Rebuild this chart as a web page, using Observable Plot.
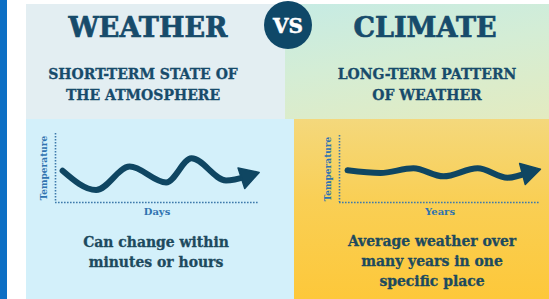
<!DOCTYPE html>
<html><head><meta charset="utf-8">
<script src="https://cdn.jsdelivr.net/npm/d3@7"></script>
<script src="https://cdn.jsdelivr.net/npm/@observablehq/plot@0.6"></script>
<style>
html,body{margin:0;padding:0;background:#fff;}
#root{position:relative;width:549px;height:299px;overflow:hidden;font-family:"DejaVu Serif",serif;font-weight:bold;}
.panel{position:absolute;}
.t{position:absolute;text-align:center;white-space:nowrap;line-height:1;width:400px;}
.chart{position:absolute;}
.chart svg{overflow:visible;background:transparent;}
</style></head><body>
<div id="root">
  <div class="panel" style="left:0;top:0;width:7px;height:299px;background:#0d6fc4"></div>
  <div class="panel" style="left:26px;top:4px;width:259px;height:115px;background:#e3eef2"></div>
  <div class="panel" style="left:285px;top:4px;width:264px;height:115px;background:linear-gradient(170deg,#c6ebe4 0%,#d4edd5 45%,#e3ebc0 100%)"></div>
  <div class="panel" style="left:26px;top:119px;width:268px;height:180px;background:#d3f0fa"></div>
  <div class="panel" style="left:294px;top:119px;width:255px;height:180px;background:linear-gradient(180deg,#f4d87c 0%,#f9cf55 45%,#fdc83a 100%)"></div>
  <div class="panel" style="left:264px;top:1px;width:48px;height:48px;border-radius:50%;background:#0f4868"></div>
  <div id="chart1" class="chart" style="left:36px;top:128px"></div>
  <div id="chart2" class="chart" style="left:316px;top:128px"></div>
</div>
<script>
// ---- data ----
const days = [0.7, 4.0, 7.3, 10.9, 13.4, 16.8, 18.9];
const weatherTemp = [4.6, 1.8, 5.2, 2.9, 6.4, 3.2, 3.8];
const years = [4.0, 20.4, 36.8, 51.7, 68.7, 83.6, 94.0];
const climateTemp = [4.8, 4.4, 5.1, 3.9, 5.1, 3.7, 4.5];

const titles = ["WEATHER", "VS", "CLIMATE"];
const subtitles = [["SHORT-TERM STATE OF", "THE ATMOSPHERE"], ["LONG-TERM PATTERN", "OF WEATHER"]];
const captions = [["Can change within", "minutes or hours"], ["Average weather over", "many years in one", "specific place"]];
const xLabels = ["Days", "Years"];
const yLabel = "Temperature";

// ---- text ----
const root = document.getElementById("root");
function addText(str, cx, baseline, size, color, extra) {
  const d = document.createElement("div");
  d.className = "t";
  d.textContent = str;
  d.style.fontSize = size + "px";
  d.style.left = (cx - 200) + "px";
  d.style.top = (baseline - 0.846 * size) + "px";
  d.style.color = color;
  if (extra) Object.assign(d.style, extra);
  root.appendChild(d);
}
const navy = "#174b6b";
const heavy = {webkitTextStroke: "0.7px " + navy};
addText(titles[0], 148, 37, 27, navy, heavy);
addText(titles[1], 288, 33, 20, "#ffffff", {webkitTextStroke: "0.5px #ffffff"});
addText(titles[2], 425, 37, 27, navy, heavy);
const sub = {webkitTextStroke: "0.3px " + navy};
addText(subtitles[0][0], 143, 79, 14, navy, sub);
addText(subtitles[0][1], 143, 100, 14, navy, sub);
addText(subtitles[1][0], 427, 79, 14, navy, sub);
addText(subtitles[1][1], 427, 100, 14, navy, sub);
const capColor = "#1d4a5e";
const cap = {fontFamily: '"DejaVu Serif Condensed","DejaVu Serif",serif', fontStretch: "condensed", webkitTextStroke: "0.3px " + capColor};
addText(captions[0][0], 156, 247, 15.5, capColor, cap);
addText(captions[0][1], 156, 267, 15.5, capColor, cap);
addText(captions[1][0], 432, 246, 15.5, capColor, cap);
addText(captions[1][1], 432, 266, 15.5, capColor, cap);
addText(captions[1][2], 432, 286, 15.5, capColor, cap);

// ---- charts ----
const lineColor = "#0f4662";
const axisColor = "#3d7aab";
const labelColor = "#2f73b0";
function miniChart(xs, ys, xDomain, xLabel, opts) {
  const data = xs.map((x, i) => ({x, y: ys[i]}));
  const last = data[data.length - 1];
  return Plot.plot({
    width: 230, height: 92,
    marginLeft: opts.marginLeft, marginRight: opts.marginRight, marginTop: opts.marginTop, marginBottom: 18,
    x: {domain: xDomain, axis: null},
    y: {domain: [0, 10], axis: null},
    style: {background: "transparent", overflow: "visible"},
    marks: [
      Plot.ruleX([xDomain[0]], {stroke: axisColor, strokeWidth: 1.6, strokeDasharray: "1.6,1.4"}),
      Plot.ruleY([0], {stroke: axisColor, strokeWidth: 1.6, strokeDasharray: "1.6,1.4"}),
      Plot.line(data, {x: "x", y: "y", curve: "monotone-x", stroke: lineColor, strokeWidth: 6, strokeLinecap: "round", strokeLinejoin: "round"}),
      Plot.dot([last], {x: "x", y: "y", symbol: "triangle", r: 8, fill: lineColor, stroke: lineColor, strokeWidth: 1.5, strokeLinejoin: "round", rotate: opts.arrowRotate}),
      Plot.text([xLabel], {frameAnchor: "bottom", dy: 12, fill: labelColor, fontSize: 10, fontWeight: "bold", fontFamily: "DejaVu Serif"}),
      Plot.text([yLabel], {frameAnchor: "left", textAnchor: "middle", rotate: -90, dx: -11, fill: labelColor, fontSize: 9, fontWeight: "bold", fontFamily: "DejaVu Serif"})
    ]
  });
}
document.getElementById("chart1").appendChild(
  miniChart(days, weatherTemp, [0, 20], xLabels[0], {marginLeft: 19, marginRight: 8, marginTop: 5, arrowRotate: 72}));
document.getElementById("chart2").appendChild(
  miniChart(years, climateTemp, [0, 100], xLabels[1], {marginLeft: 23, marginRight: 6, marginTop: 7, arrowRotate: 75}));
</script>
</body></html>
